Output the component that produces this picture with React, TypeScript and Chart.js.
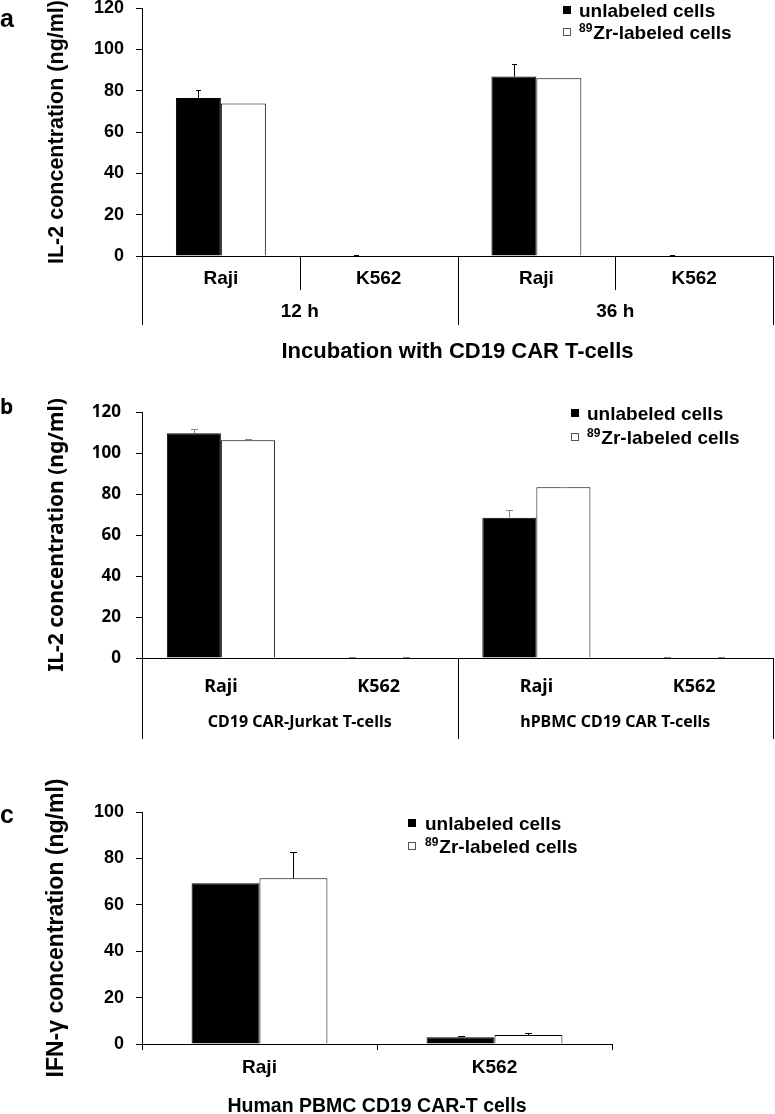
import React, { useEffect, useRef } from 'react';
import { Chart, registerables } from 'chart.js';

Chart.register(...registerables);

const ARIAL = "'Liberation Sans', Arial, sans-serif";
const MALGUN = "'Noto Sans', 'Liberation Sans', sans-serif";

// ---------- Panel a ----------
const aCategories = ['Raji', 'K562', 'Raji', 'K562'];
const aGroups = ['12 h', '36 h'];
const aUnlabeled = [76.5, 0.2, 86.8, 0.2];
const aUnlabeledErr = [3.8, 0.5, 5.9, 0.5];
const aLabeled = [73.8, 0, 86.0, 0];
const aLabeledErr = [0, 0, 0, 0];

// ---------- Panel b ----------
const bCategories = ['Raji', 'K562', 'Raji', 'K562'];
const bGroups = ['CD19 CAR-Jurkat T-cells', 'hPBMC CD19 CAR T-cells'];
const bUnlabeled = [109.6, 0.3, 68.4, 0.3];
const bUnlabeledErr = [1.9, 0.3, 3.6, 0.4];
const bLabeled = [106.2, 0.3, 83.3, 0.1];
const bLabeledErr = [0.4, 0.2, 0.2, 0.2];

// ---------- Panel c ----------
const cCategories = ['Raji', 'K562'];
const cUnlabeled = [69.3, 2.9];
const cUnlabeledErr = [0, 0.4];
const cLabeled = [71.4, 3.9];
const cLabeledErr = [11.2, 0.8];

// ---------- Legend ----------
const seriesNames = ['unlabeled cells', 'Zr-labeled cells'];
const seriesSup = ['', '89'];

function makeErrorBars(errors: number[][], color: string, cap: number) {
  return {
    id: 'errorBars',
    afterDatasetsDraw(chart: any) {
      const ctx = chart.ctx;
      const ys = chart.scales.y;
      ctx.save();
      ctx.strokeStyle = color;
      ctx.lineWidth = 1;
      chart.data.datasets.forEach((ds: any, di: number) => {
        const e = errors[di];
        if (!e) return;
        const meta = chart.getDatasetMeta(di);
        meta.data.forEach((bar: any, i: number) => {
          const err = e[i];
          if (!err) return;
          const v = ds.data[i];
          const x = Math.round(bar.x) + 0.5;
          const y0 = ys.getPixelForValue(v);
          const y1 = Math.round(ys.getPixelForValue(v + err)) + 0.5;
          ctx.beginPath();
          ctx.moveTo(x, y0);
          ctx.lineTo(x, y1);
          ctx.moveTo(x - cap, y1);
          ctx.lineTo(x + cap, y1);
          ctx.stroke();
        });
      });
      ctx.restore();
    },
  };
}

function makeDividers(groupSize: number, innerLen: number, outerLen: number) {
  return {
    id: 'dividers',
    afterDraw(chart: any) {
      const ctx = chart.ctx;
      const xs = chart.scales.x;
      const bottom = chart.chartArea.bottom;
      const n = xs.ticks.length;
      const step = xs.getPixelForValue(1) - xs.getPixelForValue(0);
      ctx.save();
      ctx.strokeStyle = '#000';
      ctx.lineWidth = 1;
      for (let i = 0; i <= n; i++) {
        const px = xs.getPixelForValue(0) - step / 2 + i * step;
        const len = i % groupSize === 0 ? outerLen : innerLen;
        if (!len) continue;
        const x = Math.round(px) + 0.5;
        ctx.beginPath();
        ctx.moveTo(x, bottom);
        ctx.lineTo(x, bottom + len);
        ctx.stroke();
      }
      ctx.restore();
    },
  };
}

function makeLegend(x: number, y: number, gap: number, textX: number, size: number) {
  return {
    id: 'sketchLegend',
    afterDraw(chart: any) {
      const ctx = chart.ctx;
      ctx.save();
      chart.data.datasets.forEach((ds: any, i: number) => {
        const cy = y + i * gap;
        const b = 8;
        const top = Math.round(cy - b / 2);
        ctx.fillStyle = ds.backgroundColor;
        ctx.fillRect(x, top, b, b);
        ctx.strokeStyle = i === 0 ? '#000' : '#555';
        ctx.lineWidth = 1;
        ctx.strokeRect(x + 0.5, top + 0.5, b - 1, b - 1);
        const baseline = cy + size * 0.36;
        let tx = textX;
        ctx.fillStyle = '#000';
        ctx.textAlign = 'left';
        ctx.textBaseline = 'alphabetic';
        const sup = seriesSup[i];
        if (sup) {
          ctx.font = `bold ${Math.round(size * 0.64)}px ${ARIAL}`;
          ctx.fillText(sup, tx, baseline - size * 0.38);
          tx += ctx.measureText(sup).width + 1;
        }
        ctx.font = `bold ${size}px ${ARIAL}`;
        ctx.fillText(seriesNames[i], tx, baseline);
      });
      ctx.restore();
    },
  };
}

function makePanelLabel(text: string, x: number, y: number, font: string) {
  return {
    id: 'panelLabel',
    afterDraw(chart: any) {
      const ctx = chart.ctx;
      ctx.save();
      ctx.fillStyle = '#000';
      ctx.font = font;
      ctx.textAlign = 'left';
      ctx.textBaseline = 'alphabetic';
      ctx.fillText(text, x, y);
      ctx.restore();
    },
  };
}

function yAxis(max: number, family: string, tickSize: number, pad: number, title: string, titleSize: number, titlePad: number) {
  return {
    min: 0,
    max,
    ticks: { stepSize: 20, padding: pad, color: '#000', font: { family, size: tickSize, weight: 'bold' } },
    grid: { display: true, drawOnChartArea: false, drawTicks: true, tickLength: 6, color: '#000' },
    border: { display: true, color: '#000', width: 1 },
    title: {
      display: true,
      text: title,
      color: '#000',
      font: { family, size: titleSize, weight: 'bold' },
      padding: { top: titlePad, bottom: 0 },
    },
    afterFit: (s: any) => {
      s.width = 142;
      s.paddingTop = 0;
      s.paddingBottom = 0;
    },
  };
}

function datasets(unl: number[], lab: number[]) {
  return [
    { label: seriesNames[0], data: unl, backgroundColor: '#000', borderColor: '#000', borderWidth: 1, xAxisID: 'x', yAxisID: 'y' },
    { label: seriesSup[1] + seriesNames[1], data: lab, backgroundColor: '#fff', borderColor: '#000', borderWidth: 1, xAxisID: 'x', yAxisID: 'y' },
  ];
}

function buildA(): any {
  return {
    type: 'bar',
    data: { labels: aCategories, datasets: datasets(aUnlabeled, aLabeled) },
    options: {
      responsive: false,
      animation: false,
      devicePixelRatio: 1,
      layout: { padding: { top: 8, right: 2, bottom: 0, left: 0 } },
      datasets: { bar: { categoryPercentage: 0.57, barPercentage: 1 } },
      plugins: { legend: { display: false }, tooltip: { enabled: false } },
      scales: {
        x: {
          type: 'category',
          position: 'bottom',
          weight: 0,
          offset: true,
          grid: { display: false, drawTicks: false },
          border: { display: true, color: '#000', width: 1 },
          ticks: { color: '#000', padding: 11.6, autoSkip: false, maxRotation: 0, font: { family: ARIAL, size: 19, weight: 'bold' } },
          afterFit: (s: any) => { s.height = 34; s.paddingLeft = 0; s.paddingRight = 0; },
        },
        x2: {
          type: 'category',
          position: 'bottom',
          weight: 1,
          labels: aGroups,
          offset: true,
          grid: { display: false, drawTicks: false },
          border: { display: false },
          ticks: { color: '#000', padding: 10.6, autoSkip: false, maxRotation: 0, font: { family: ARIAL, size: 19, weight: 'bold' } },
          title: {
            display: true,
            text: 'Incubation with CD19 CAR T-cells',
            color: '#000',
            font: { family: ARIAL, size: 22, weight: 'bold' },
            padding: { top: 0, bottom: 7 },
          },
          afterFit: (s: any) => { s.height = 82; s.paddingLeft = 0; s.paddingRight = 0; },
        },
        y: yAxis(120, ARIAL, 18, 12, 'IL-2 concentration (ng/ml)', 21.5, 44),
      },
    },
    plugins: [
      makeErrorBars([aUnlabeledErr, aLabeledErr], '#000', 2.5),
      makeDividers(2, 34, 69),
      makeLegend(563, 10, 22, 579, 19),
      makePanelLabel('a', 0, 27, `bold 25px ${ARIAL}`),
    ],
  };
}

function buildB(): any {
  return {
    type: 'bar',
    data: { labels: bCategories, datasets: datasets(bUnlabeled, bLabeled) },
    options: {
      responsive: false,
      animation: false,
      devicePixelRatio: 1,
      layout: { padding: { top: 40, right: 2, bottom: 0, left: 0 } },
      datasets: { bar: { categoryPercentage: 0.685, barPercentage: 1 } },
      plugins: { legend: { display: false }, tooltip: { enabled: false } },
      scales: {
        x: {
          type: 'category',
          position: 'bottom',
          weight: 0,
          offset: true,
          grid: { display: false, drawTicks: false },
          border: { display: true, color: '#000', width: 1 },
          ticks: { color: '#000', padding: 18.5, autoSkip: false, maxRotation: 0, font: { family: MALGUN, size: 18, weight: 'bold' } },
          afterFit: (s: any) => { s.height = 45; s.paddingLeft = 0; s.paddingRight = 0; },
        },
        x2: {
          type: 'category',
          position: 'bottom',
          weight: 1,
          labels: bGroups,
          offset: true,
          grid: { display: false, drawTicks: false },
          border: { display: false },
          ticks: { color: '#000', padding: 10, autoSkip: false, maxRotation: 0, font: { family: MALGUN, size: 16, weight: 'bold' } },
          afterFit: (s: any) => { s.height = 47; s.paddingLeft = 0; s.paddingRight = 0; },
        },
        y: yAxis(120, MALGUN, 17, 15, 'IL-2 concentration (ng/ml)', 21, 44),
      },
    },
    plugins: [
      makeErrorBars([bUnlabeledErr, bLabeledErr], '#888', 3.5),
      makeDividers(2, 0, 81),
      makeLegend(571, 41, 24, 587, 19),
      makePanelLabel('b', 0, 42, `bold 21px ${MALGUN}`),
    ],
  };
}

function buildC(): any {
  return {
    type: 'bar',
    data: { labels: cCategories, datasets: datasets(cUnlabeled, cLabeled) },
    options: {
      responsive: false,
      animation: false,
      devicePixelRatio: 1,
      layout: { padding: { top: 62, right: 163, bottom: 0, left: 0 } },
      datasets: { bar: { categoryPercentage: 0.578, barPercentage: 1 } },
      plugins: { legend: { display: false }, tooltip: { enabled: false } },
      scales: {
        x: {
          type: 'category',
          position: 'bottom',
          offset: true,
          grid: { display: true, offset: true, drawOnChartArea: false, drawTicks: true, tickLength: 6, color: '#000' },
          border: { display: true, color: '#000', width: 1 },
          ticks: { color: '#000', padding: 6.6, autoSkip: false, maxRotation: 0, font: { family: ARIAL, size: 19, weight: 'bold' } },
          title: {
            display: true,
            text: 'Human PBMC CD19 CAR-T cells',
            color: '#000',
            font: { family: ARIAL, size: 19.5, weight: 'bold' },
            padding: { top: 0, bottom: 12 },
          },
          afterFit: (s: any) => { s.height = 86; s.paddingLeft = 0; s.paddingRight = 0; },
        },
        y: yAxis(100, ARIAL, 18, 12, 'IFN-γ concentration (ng/ml)', 23, 43),
      },
    },
    plugins: [
      makeErrorBars([cUnlabeledErr, cLabeledErr], '#000', 3.5),
      makeLegend(408, 73, 23, 425, 19),
      makePanelLabel('c', 0, 73, `bold 25px ${ARIAL}`),
    ],
  };
}

function ChartCanvas({ top, height, build }: { top: number; height: number; build: () => any }) {
  const ref = useRef<HTMLCanvasElement>(null);
  useEffect(() => {
    const chart = new Chart(ref.current as HTMLCanvasElement, build());
    return () => chart.destroy();
  }, []);
  return (
    <canvas
      ref={ref}
      width={775}
      height={height}
      style={{ position: 'absolute', left: 0, top, width: 775, height }}
    />
  );
}

export default function App() {
  return (
    <div
      style={{
        position: 'absolute',
        left: 0,
        top: 0,
        width: 775,
        height: 1114,
        overflow: 'hidden',
        background: '#fff',
      }}
    >
      <ChartCanvas top={0} height={372} build={buildA} />
      <ChartCanvas top={372} height={378} build={buildB} />
      <ChartCanvas top={750} height={380} build={buildC} />
    </div>
  );
}
